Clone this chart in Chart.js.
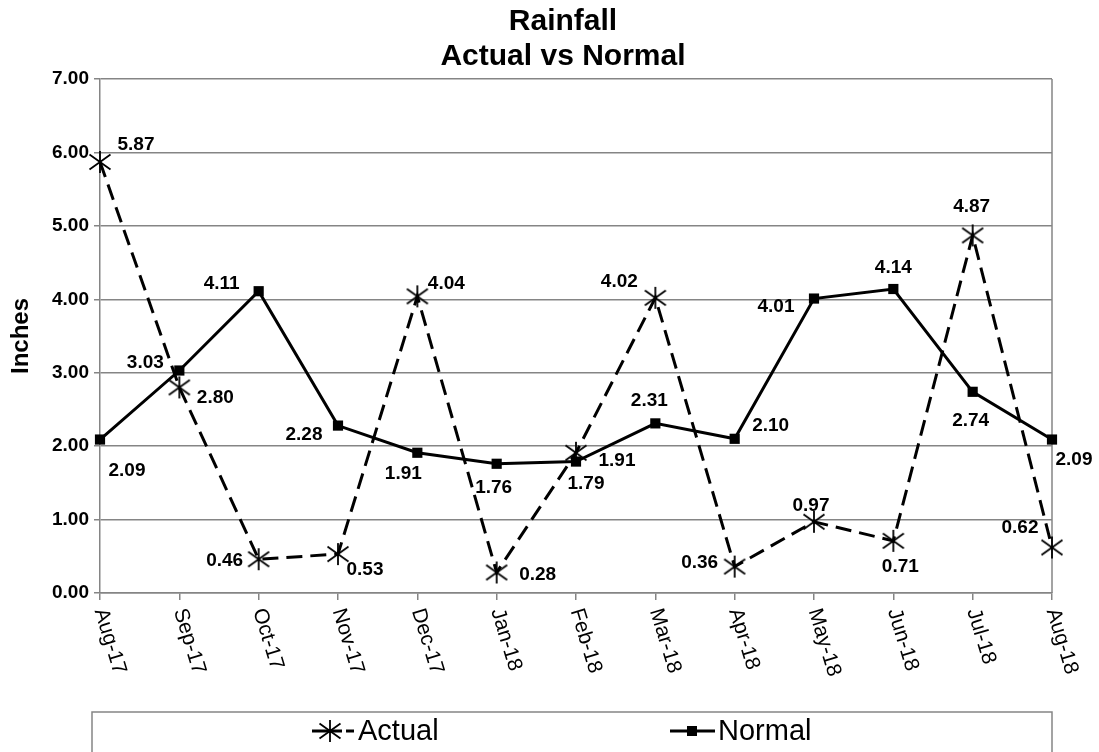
<!DOCTYPE html>
<html><head><meta charset="utf-8">
<script src="https://cdn.jsdelivr.net/npm/chart.js@4.4.1/dist/chart.umd.min.js"></script>
<style>html,body{margin:0;padding:0;background:#fff}canvas{display:block}</style>
</head><body>
<canvas id="c" width="1099" height="752"></canvas>
<script>
// ---- data ----
const categories = ['Aug-17','Sep-17','Oct-17','Nov-17','Dec-17','Jan-18','Feb-18','Mar-18','Apr-18','May-18','Jun-18','Jul-18','Aug-18'];
const actualValues = [5.87, 2.80, 0.46, 0.53, 4.04, 0.28, 1.91, 4.02, 0.36, 0.97, 0.71, 4.87, 0.62];
const normalValues = [2.09, 3.03, 4.11, 2.28, 1.91, 1.76, 1.79, 2.31, 2.10, 4.01, 4.14, 2.74, 2.09];
const yTicks = [0, 1, 2, 3, 4, 5, 6, 7];
const titleLines = ['Rainfall', 'Actual vs Normal'];
const seriesNames = ['Actual', 'Normal'];
const yTitle = 'Inches';

// ---- label placement (style: offset of value label from its point) ----
const actualLabelOffsets = [[36,-17],[36,10],[-34,2],[27,16],[29,-13],[41,2],[41,8],[-36,-16],[-35,-4],[-3,-16],[7,26],[-1,-29],[-32,-20]];
const normalLabelOffsets = [[27,31],[-34,-8],[-37,-7],[-34,9],[-14,21],[-3,24],[10,22],[-6,-23],[36,-13],[-38,8],[0,-21],[-2,29],[22,20]];

const FAM = '"Liberation Sans", Arial, Helvetica, sans-serif';
const GRID = '#858585';

function makeStar() {
  const w = 24, h = 24;
  const c = document.createElement('canvas'); c.width = w; c.height = h;
  const g = c.getContext('2d');
  g.strokeStyle = '#000'; g.lineWidth = 1.8; g.lineCap = 'butt';
  const mx = w / 2, my = h / 2;
  g.beginPath();
  g.moveTo(mx - 10.5, my - 7.5); g.lineTo(mx + 10.5, my + 7.5);
  g.moveTo(mx - 10.5, my + 7.5); g.lineTo(mx + 10.5, my - 7.5);
  g.moveTo(mx, my - 11); g.lineTo(mx, my + 11);
  g.stroke();
  return c;
}
const starImg = makeStar();

const xLabelPlugin = {
  id: 'xlabels',
  afterDraw(chart) {
    const s = chart.scales.x, ctx = chart.ctx;
    ctx.save();
    ctx.font = '21px ' + FAM;
    ctx.fillStyle = '#000';
    ctx.textAlign = 'left';
    ctx.textBaseline = 'middle';
    s.ticks.forEach((t, i) => {
      const x = s.getPixelForTick(i);
      ctx.save();
      ctx.translate(x, s.top + 16);
      ctx.rotate(73 * Math.PI / 180);
      ctx.fillText(s.getLabelForValue(t.value), 0, 0);
      ctx.restore();
    });
    ctx.restore();
  }
};

const valueLabelPlugin = {
  id: 'valuelabels',
  afterDatasetsDraw(chart) {
    const ctx = chart.ctx;
    const offsets = [actualLabelOffsets, normalLabelOffsets];
    ctx.save();
    ctx.font = 'bold 19px ' + FAM;
    ctx.fillStyle = '#000';
    ctx.textAlign = 'center';
    ctx.textBaseline = 'middle';
    chart.data.datasets.forEach((ds, di) => {
      const meta = chart.getDatasetMeta(di);
      meta.data.forEach((pt, i) => {
        const o = offsets[di][i];
        ctx.fillText(Number(ds.data[i]).toFixed(2), pt.x + o[0], pt.y + o[1]);
      });
    });
    ctx.restore();
  }
};

const frameLegendPlugin = {
  id: 'framelegend',
  beforeDatasetsDraw(chart) {
    const a = chart.chartArea, ctx = chart.ctx;
    ctx.save();
    ctx.strokeStyle = GRID; ctx.lineWidth = 1.5;
    ctx.beginPath(); ctx.moveTo(a.right, a.top); ctx.lineTo(a.right, a.bottom); ctx.stroke();
    ctx.restore();
  },
  afterDraw(chart) {
    const ctx = chart.ctx;
    const a = chart.chartArea;
    ctx.save();
    // legend box
    ctx.strokeStyle = GRID; ctx.lineWidth = 1.5;
    ctx.strokeRect(a.left - 8, 712, a.right - a.left + 8, 60);
    const cy = 731;
    const items = [
      {segs: [[312, 342], [346, 354]], mx: 330, tx: 358},
      {segs: [[670, 715]], mx: 692, tx: 718}
    ];
    chart.data.datasets.forEach((ds, di) => {
      const it = items[di];
      ctx.strokeStyle = ds.borderColor; ctx.lineWidth = ds.borderWidth;
      ctx.beginPath();
      it.segs.forEach(sg => { ctx.moveTo(sg[0], cy); ctx.lineTo(sg[1], cy); });
      ctx.stroke();
      if (ds.pointStyle === 'rect') {
        ctx.fillStyle = '#000';
        ctx.fillRect(it.mx - 5, cy - 5, 10, 10);
      } else {
        ctx.drawImage(ds.pointStyle, it.mx - ds.pointStyle.width / 2, cy - ds.pointStyle.height / 2);
      }
      ctx.fillStyle = '#000';
      ctx.font = '29px ' + FAM;
      ctx.textAlign = 'left'; ctx.textBaseline = 'middle';
      ctx.fillText(ds.label, it.tx, cy + 1);
    });
    ctx.restore();
  }
};

new Chart(document.getElementById('c'), {
  type: 'line',
  data: {
    labels: categories,
    datasets: [
      {
        label: seriesNames[0], data: actualValues,
        borderColor: '#000', borderWidth: 3, borderDash: [16, 8],
        pointStyle: starImg, pointRadius: 12, pointHoverRadius: 12,
        tension: 0, fill: false, clip: false
      },
      {
        label: seriesNames[1], data: normalValues,
        borderColor: '#000', backgroundColor: '#000', borderWidth: 3,
        pointStyle: 'rect', pointRadius: 7.2, pointHoverRadius: 7.2,
        pointBackgroundColor: '#000', pointBorderColor: '#000', pointBorderWidth: 0,
        tension: 0, fill: false, clip: false
      }
    ]
  },
  options: {
    responsive: false, animation: false, events: [],
    layout: {padding: {left: 27, right: 0, top: 0, bottom: 0}},
    plugins: {
      legend: {display: false},
      tooltip: {enabled: false},
      title: {
        display: true, text: titleLines, color: '#000',
        font: {family: FAM, size: 30, weight: 'bold', lineHeight: 1.17},
        padding: {top: 4, bottom: 4.8}
      }
    },
    scales: {
      x: {
        type: 'category', offset: false,
        grid: {display: true, drawOnChartArea: false, drawTicks: true, tickLength: 7, color: GRID, lineWidth: 1.5},
        border: {display: true, color: GRID, width: 1.5},
        ticks: {display: false},
        afterFit(s) { s.height = 159; }
      },
      y: {
        min: 0, max: 7,
        afterBuildTicks(s) { s.ticks = yTicks.map(v => ({value: v})); },
        ticks: {callback: v => Number(v).toFixed(2), color: '#000', font: {family: FAM, size: 19, weight: 'bold'}, padding: 5},
        grid: {color: GRID, lineWidth: 1.5, tickLength: 6},
        border: {display: true, color: GRID, width: 1.5},
        title: {display: true, text: yTitle, color: '#000', font: {family: FAM, size: 24, weight: 'bold', lineHeight: 1.2}, padding: {top: -20.4, bottom: 0}},
        afterFit(s) { s.width = 73; }
      },
      yRight: {
        position: 'right', min: 0, max: 7,
        grid: {display: false}, border: {display: false},
        ticks: {display: false},
        afterFit(s) { s.width = 47; }
      }
    }
  },
  plugins: [frameLegendPlugin, valueLabelPlugin, xLabelPlugin]
});
</script>
</body></html>
